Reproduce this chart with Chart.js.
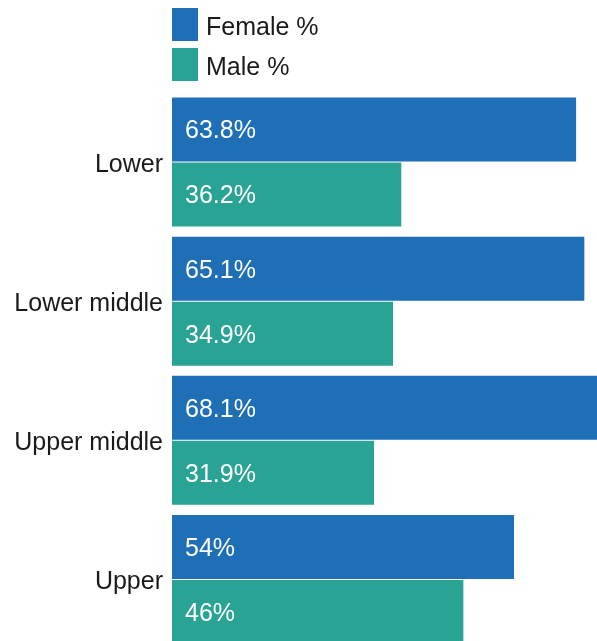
<!DOCTYPE html>
<html>
<head>
<meta charset="utf-8">
<script src="https://cdn.jsdelivr.net/npm/chart.js@4"></script>
<style>
html,body{margin:0;padding:0;overflow:hidden;background:#fff;width:597px;height:641px;}
#c{position:absolute;left:0;top:0;}
</style>
</head>
<body>
<canvas id="c" width="597" height="649" style="width:597px;height:649px;"></canvas>
<script>
const categories = ["Lower", "Lower middle", "Upper middle", "Upper"];
const femaleValues = [63.8, 65.1, 68.1, 54];
const maleValues = [36.2, 34.9, 31.9, 46];
const femaleLabels = ["63.8%", "65.1%", "68.1%", "54%"];
const maleLabels = ["36.2%", "34.9%", "31.9%", "46%"];
const seriesNames = ["Female %", "Male %"];
const seriesColors = ["#1f6fb7", "#29a394"];
const FONT = "'Liberation Sans', Arial, sans-serif";
const FS = 25;

const valueLabelPlugin = {
  id: 'valueLabels',
  afterDatasetsDraw(chart) {
    const ctx = chart.ctx;
    const lbls = [femaleLabels, maleLabels];
    ctx.save();
    ctx.font = FS + "px " + FONT;
    ctx.fillStyle = "#ffffff";
    ctx.textAlign = "left";
    ctx.textBaseline = "middle";
    chart.data.datasets.forEach((ds, di) => {
      const meta = chart.getDatasetMeta(di);
      meta.data.forEach((bar, i) => {
        ctx.fillText(lbls[di][i], bar.base + 13, bar.y + 2);
      });
    });
    ctx.restore();
  }
};

const legendPlugin = {
  id: 'customLegend',
  afterDraw(chart) {
    const ctx = chart.ctx;
    const left = chart.chartArea.left;
    ctx.save();
    ctx.font = FS + "px " + FONT;
    ctx.textBaseline = "middle";
    ctx.textAlign = "left";
    seriesNames.forEach((name, i) => {
      const top = 8 + i * 40;
      ctx.fillStyle = seriesColors[i];
      ctx.fillRect(left, top, 26, 33);
      ctx.fillStyle = "#1a1a1a";
      ctx.fillText(name, left + 34, top + 20);
    });
    ctx.restore();
  }
};

new Chart(document.getElementById('c'), {
  type: 'bar',
  data: {
    labels: categories,
    datasets: [
      { label: seriesNames[0], data: femaleValues, backgroundColor: seriesColors[0] },
      { label: seriesNames[1], data: maleValues, backgroundColor: seriesColors[1] }
    ]
  },
  options: {
    indexAxis: 'y',
    responsive: false,
    devicePixelRatio: 1,
    animation: false,
    layout: { padding: { top: 92.5, left: 0, right: 0, bottom: 0 } },
    datasets: { bar: { categoryPercentage: 0.935, barPercentage: 0.985 } },
    plugins: { legend: { display: false }, tooltip: { enabled: false } },
    scales: {
      x: {
        display: false,
        min: 0,
        max: 67.1
      },
      y: {
        grid: { display: false, drawTicks: false },
        border: { display: false },
        ticks: { color: "#1a1a1a", font: { family: FONT, size: FS }, padding: 9, labelOffset: 3 },
        afterFit(scale) {
          scale.width = 172;
          scale.paddingTop = 0;
          scale.paddingBottom = 0;
        }
      }
    }
  },
  plugins: [valueLabelPlugin, legendPlugin]
});
</script>
</body>
</html>
